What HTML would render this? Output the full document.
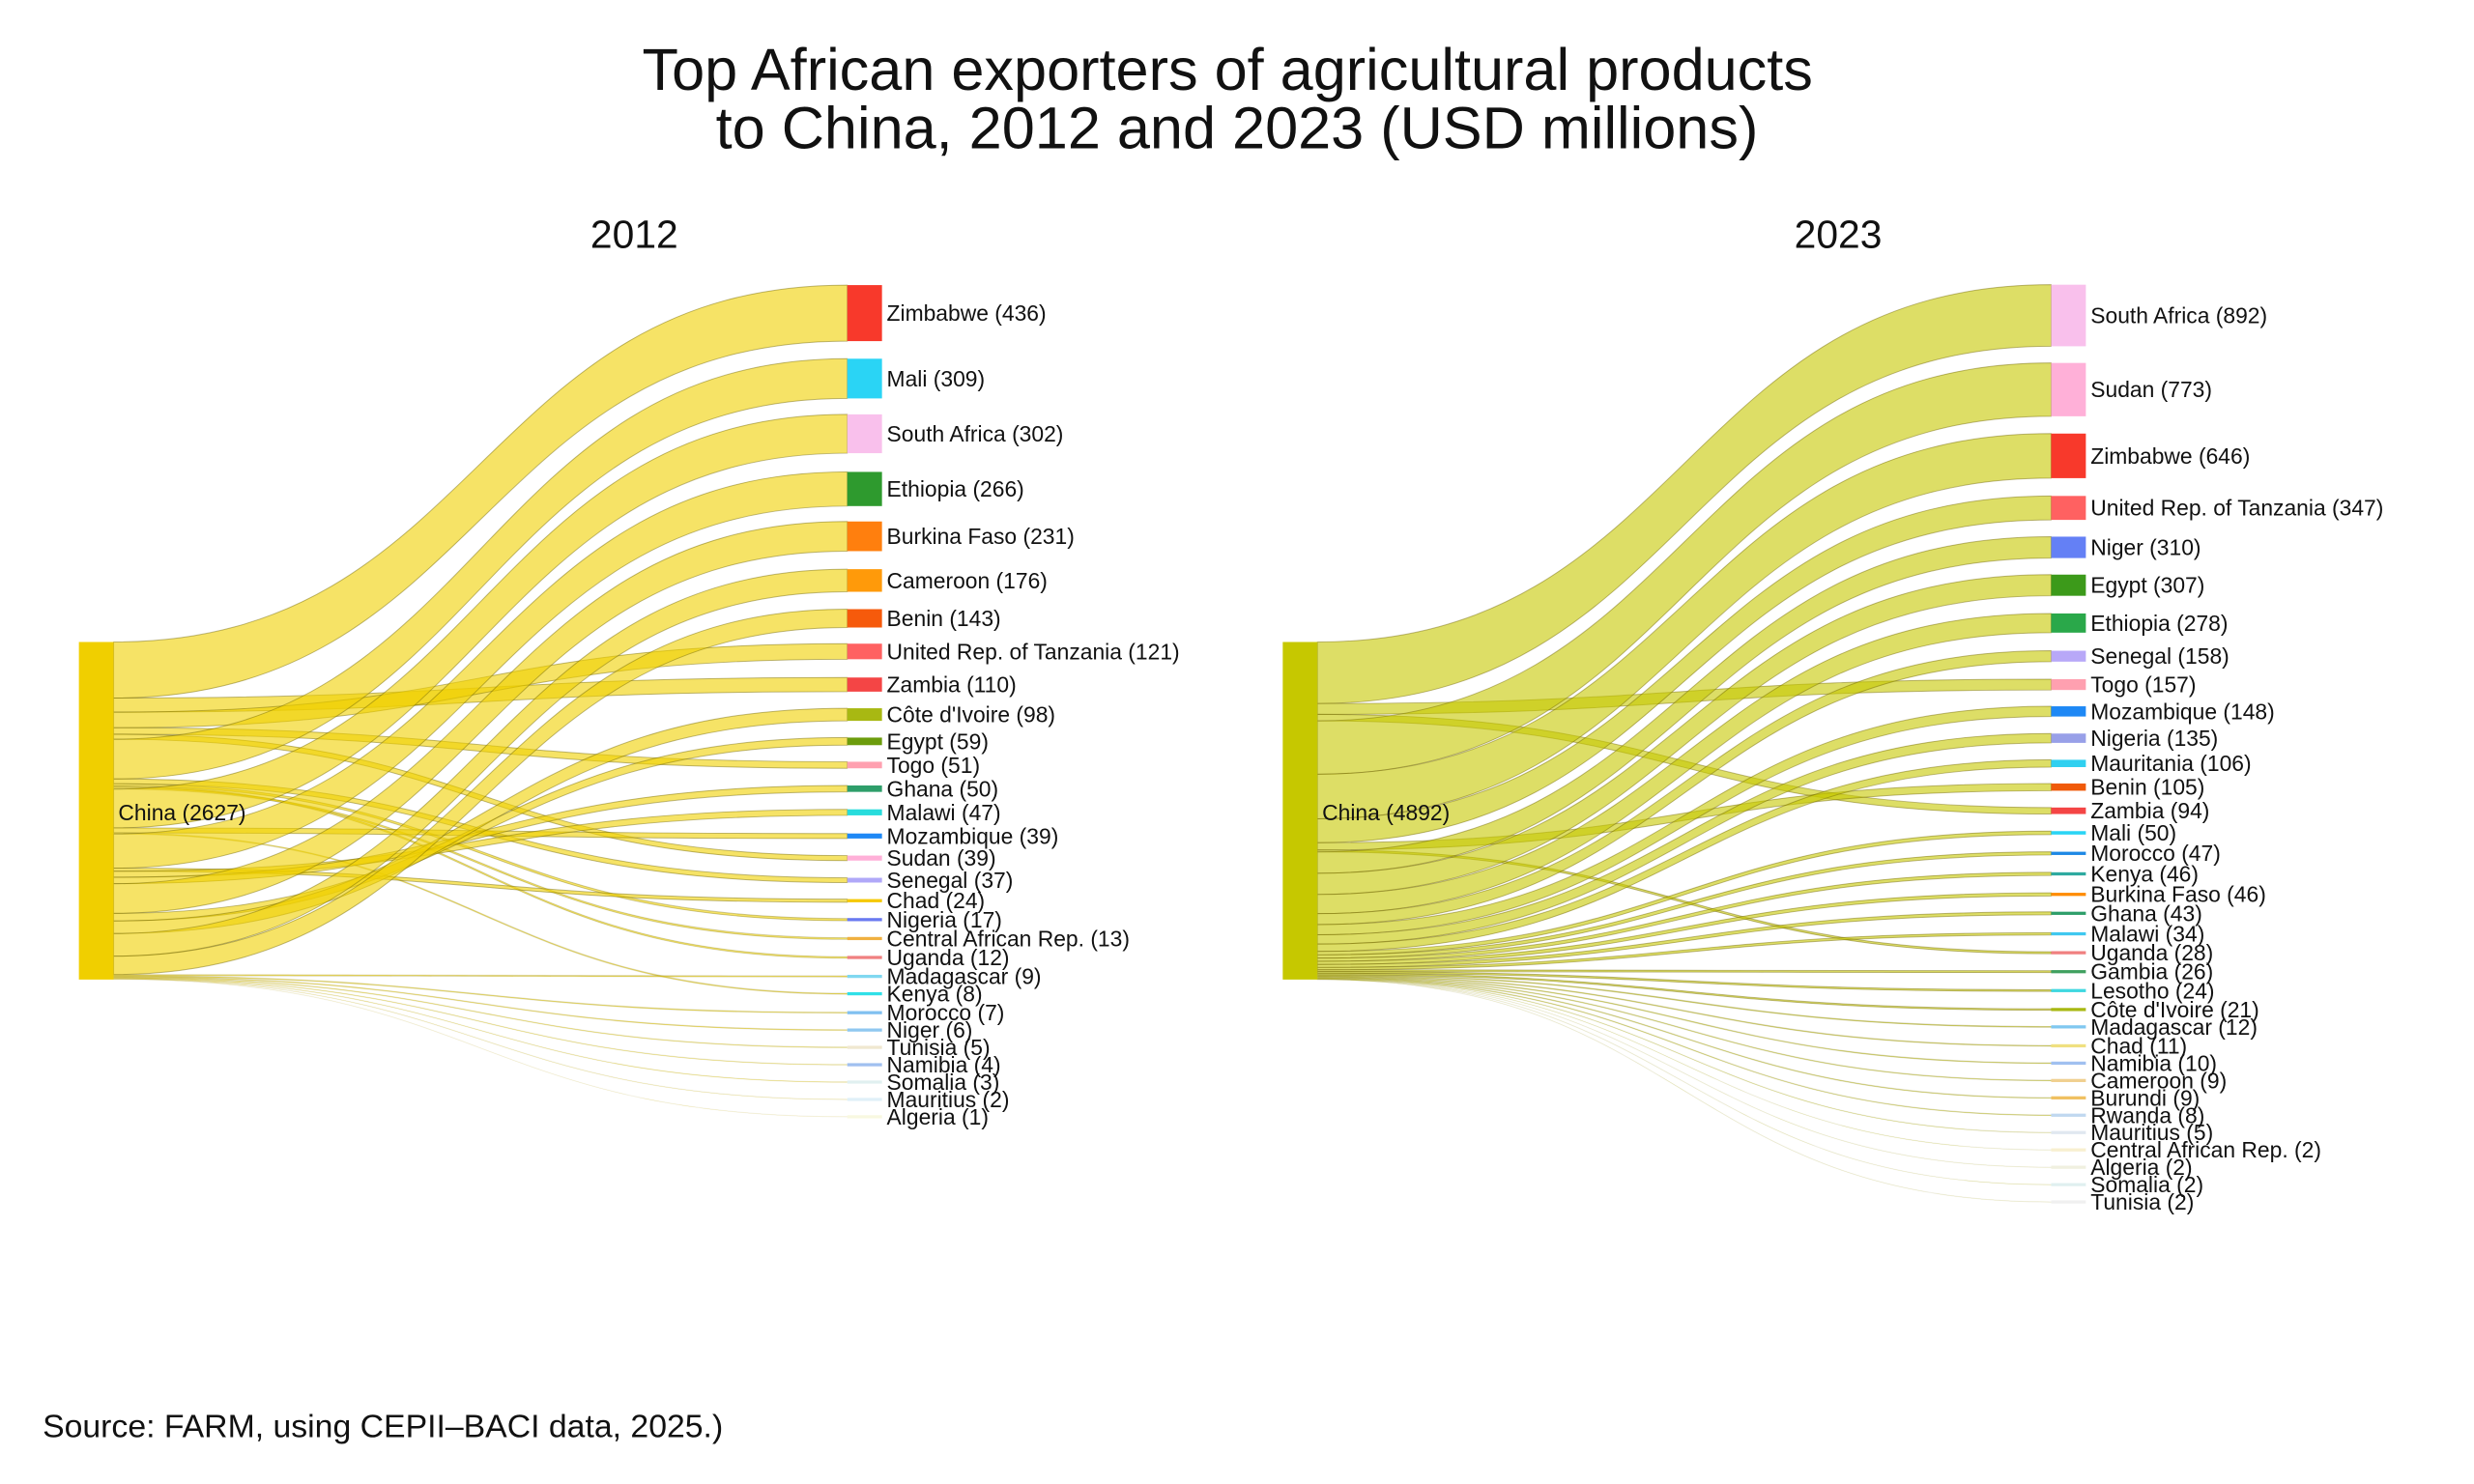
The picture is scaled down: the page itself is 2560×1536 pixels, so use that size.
<!DOCTYPE html>
<html><head><meta charset="utf-8"><style>
html,body{margin:0;padding:0;background:#fff;}
svg{display:block;font-family:"Liberation Sans",Arial,sans-serif;}
</style></head><body>
<svg id="s" width="2560" height="1536" viewBox="0 0 1568 940.8" xmlns="http://www.w3.org/2000/svg">
<rect width="1568" height="940.8" fill="#fff"/>
<g id="links"></g><g id="nodes"></g>
<g fill="#111" text-anchor="middle">
<text x="778" y="57" font-size="37.5">Top African exporters of agricultural products</text>
<text x="784" y="94" font-size="37.5">to China, 2012 and 2023 (USD millions)</text>
<text x="402" y="157" font-size="25">2012</text>
<text x="1165" y="157" font-size="25">2023</text>
</g>
<text x="27" y="911" font-size="20.7" fill="#111">Source: FARM, using CEPII–BACI data, 2025.)</text>
<g id="labels" font-size="14" fill="#111" dominant-baseline="central">
<text x="75" y="515">China (2627)</text>
<text x="838" y="515">China (4892)</text>
<text x="562" y="198.5">Zimbabwe (436)</text>
<text x="562" y="240">Mali (309)</text>
<text x="562" y="275">South Africa (302)</text>
<text x="562" y="310">Ethiopia (266)</text>
<text x="562" y="340">Burkina Faso (231)</text>
<text x="562" y="368">Cameroon (176)</text>
<text x="562" y="392">Benin (143)</text>
<text x="562" y="413">United Rep. of Tanzania (121)</text>
<text x="562" y="434">Zambia (110)</text>
<text x="562" y="453">Côte d'Ivoire (98)</text>
<text x="562" y="470">Egypt (59)</text>
<text x="562" y="485">Togo (51)</text>
<text x="562" y="500">Ghana (50)</text>
<text x="562" y="515">Malawi (47)</text>
<text x="562" y="530">Mozambique (39)</text>
<text x="562" y="544">Sudan (39)</text>
<text x="562" y="558">Senegal (37)</text>
<text x="562" y="571">Chad (24)</text>
<text x="562" y="583">Nigeria (17)</text>
<text x="562" y="595">Central African Rep. (13)</text>
<text x="562" y="607">Uganda (12)</text>
<text x="562" y="619">Madagascar (9)</text>
<text x="562" y="630">Kenya (8)</text>
<text x="562" y="642">Morocco (7)</text>
<text x="562" y="653">Niger (6)</text>
<text x="562" y="664">Tunisia (5)</text>
<text x="562" y="675">Namibia (4)</text>
<text x="562" y="686">Somalia (3)</text>
<text x="562" y="697">Mauritius (2)</text>
<text x="562" y="708">Algeria (1)</text>
<text x="1325" y="200">South Africa (892)</text>
<text x="1325" y="247">Sudan (773)</text>
<text x="1325" y="289">Zimbabwe (646)</text>
<text x="1325" y="322">United Rep. of Tanzania (347)</text>
<text x="1325" y="347">Niger (310)</text>
<text x="1325" y="371">Egypt (307)</text>
<text x="1325" y="395">Ethiopia (278)</text>
<text x="1325" y="416">Senegal (158)</text>
<text x="1325" y="434">Togo (157)</text>
<text x="1325" y="451">Mozambique (148)</text>
<text x="1325" y="468">Nigeria (135)</text>
<text x="1325" y="484">Mauritania (106)</text>
<text x="1325" y="499">Benin (105)</text>
<text x="1325" y="514">Zambia (94)</text>
<text x="1325" y="528">Mali (50)</text>
<text x="1325" y="541">Morocco (47)</text>
<text x="1325" y="554">Kenya (46)</text>
<text x="1325" y="567">Burkina Faso (46)</text>
<text x="1325" y="579">Ghana (43)</text>
<text x="1325" y="592">Malawi (34)</text>
<text x="1325" y="604">Uganda (28)</text>
<text x="1325" y="616">Gambia (26)</text>
<text x="1325" y="628">Lesotho (24)</text>
<text x="1325" y="640">Côte d'Ivoire (21)</text>
<text x="1325" y="651">Madagascar (12)</text>
<text x="1325" y="663">Chad (11)</text>
<text x="1325" y="674">Namibia (10)</text>
<text x="1325" y="685">Cameroon (9)</text>
<text x="1325" y="696">Burundi (9)</text>
<text x="1325" y="707">Rwanda (8)</text>
<text x="1325" y="718">Mauritius (5)</text>
<text x="1325" y="729">Central African Rep. (2)</text>
<text x="1325" y="740">Algeria (2)</text>
<text x="1325" y="751">Somalia (2)</text>
<text x="1325" y="762">Tunisia (2)</text>
</g>
</svg>
<script>
var A=[[436,198.5,"#f8392b"],[309,240,"#2ad4f5"],[302,275,"#f9c0ec"],[266,310,"#2e9a2e"],[231,340,"#ff7f0e"],[176,368,"#ff9a0a"],[143,392,"#f65a0b"],[121,413,"#ff6161"],[110,434,"#f44545"],[98,453,"#a8b812"],[59,470,"#6c9c0c"],[51,485,"#ffa0b0"],[50,500,"#2e9e6a"],[47,515,"#28dcdc"],[39,530,"#1e88f5"],[39,544,"#ffb0d8"],[37,558,"#b0a8f8"],[24,571,"#f5c800"],[17,583,"#6a7af0"],[13,595,"#f0b040"],[12,607,"#f08080"],[9,619,"#80d8f0"],[8,630,"#30e0e8"],[7,642,"#80c0f0"],[6,653,"#90c8f0"],[5,664,"#f0e8d0"],[4,675,"#a0c0f0"],[3,686,"#e0f0f0"],[2,697,"#e0f0f8"],[1,708,"#f8f8e0"]];
var B=[[892,200,"#f9c0ec"],[773,247,"#ffb0d8"],[646,289,"#f8392b"],[347,322,"#ff6161"],[310,347,"#6480f5"],[307,371,"#3c9a1a"],[278,395,"#2aa84a"],[158,416,"#b8a8f8"],[157,434,"#ffa0b0"],[148,451,"#1e88f5"],[135,468,"#98a0e8"],[106,484,"#30d0f0"],[105,499,"#f05a0a"],[94,514,"#f44545"],[50,528,"#2ad4f5"],[47,541,"#1e88e5"],[46,554,"#2eaaa0"],[46,567,"#ff8c00"],[43,579,"#2e9e6a"],[34,592,"#40c8f0"],[28,604,"#f08080"],[26,616,"#40a060"],[24,628,"#40d8e0"],[21,640,"#a8b812"],[12,651,"#80c8f0"],[11,663,"#f0e080"],[10,674,"#a0c0f0"],[9,685,"#f0d090"],[9,696,"#f0c060"],[8,707,"#c0d8f0"],[5,718,"#e0e8f0"],[2,729,"#f8f0d0"],[2,740,"#f0f0e0"],[2,751,"#e0f0f0"],[2,762,"#f0f0f0"]];
/* source stacking orders (indices into arrays) */
var OA=[0,8,7,11,15,1,16,18,20,19,2,14,22,3,17,13,12,4,10,9,5,6,21,23,24,25,26,27,28,29];
var OB=[0,8,13,1,2,3,12,20,4,5,6,7,9,10,11,14,15,16,17,18,19,21,22,23,24,25,26,27,28,29,30,31,32,33,34];
var NS="http://www.w3.org/2000/svg",L=document.getElementById("links"),N=document.getElementById("nodes");
function el(p,t,a){var e=document.createElementNS(NS,t);for(var k in a)e.setAttribute(k,a[k]);p.appendChild(e);return e;}
function draw(D,O,total,sx0,sx1,tx0,tx1,ncol,lcol){
 var top=407,H=214,k=H/total,y=top;
 el(N,"rect",{x:sx0,y:top,width:sx1-sx0,height:H,fill:ncol});
 var m=(sx1+tx0)/2;
 O.forEach(function(i){
  var d=D[i];
  var h=d[0]*k,ty=d[1]-h/2;
  var p="M"+sx1+","+y+" C"+m+","+y+" "+m+","+ty+" "+tx0+","+ty+" L"+tx0+","+(ty+h)+" C"+m+","+(ty+h)+" "+m+","+(y+h)+" "+sx1+","+(y+h)+"Z";
  var so=Math.min(0.45,0.06+d[0]/60);
  el(L,"path",{d:p,fill:lcol,stroke:"rgba(110,100,0,"+so+")","stroke-width":0.6});
  y+=h;
 });
 D.forEach(function(d){
  var h=d[0]*k,rh=Math.max(h,2);
  el(N,"rect",{x:tx0,y:d[1]-rh/2,width:tx1-tx0,height:rh,fill:d[2]});
 });
}
draw(A,OA,2627,50,72,537,559,"#f0cf00","rgba(240,208,0,0.6)");
draw(B,OB,4892,813,835,1300,1322,"#c6c800","rgba(198,200,0,0.6)");
</script>
</body></html>
